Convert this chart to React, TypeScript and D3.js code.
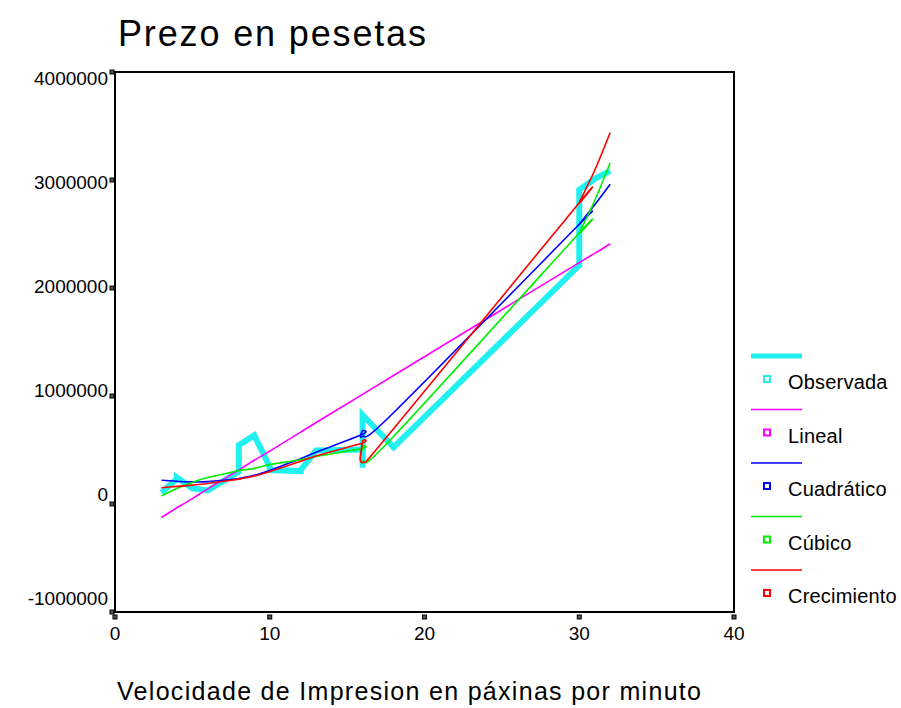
import React from "react";
import * as d3 from "d3";

// Cases in data order (x = pages per minute)
const caseX = [3, 4, 4, 5, 6, 8, 8, 9, 10, 10, 12, 12, 13, 16, 16, 16, 18, 30, 30, 31, 32];
const observada = [105000, 235000, 245000, 145000, 125000, 300000, 545000, 635000, 345000, 315000, 305000, 315000, 495000, 505000, 335000, 825000, 525000, 2210000, 2910000, 3010000, 3085000];
const lineal = [-125000, -35000, -35000, 50000, 140000, 315000, 315000, 405000, 490000, 490000, 665000, 665000, 755000, 1015000, 1015000, 1015000, 1190000, 2235000, 2235000, 2320000, 2410000];
const cuadratico = [220000, 210000, 210000, 205000, 207000, 235000, 235000, 265000, 310000, 310000, 420000, 420000, 480000, 645000, 680000, 625000, 845000, 2590000, 2590000, 2770000, 2960000];
const cubico = [75000, 145000, 145000, 200000, 245000, 310000, 310000, 330000, 365000, 365000, 410000, 410000, 440000, 515000, 530000, 395000, 625000, 2510000, 2510000, 2810000, 3160000];
const crecimiento = [150000, 163000, 163000, 175000, 190000, 230000, 230000, 260000, 300000, 300000, 395000, 395000, 445000, 565000, 580000, 385000, 697000, 2790000, 2790000, 3090000, 3440000];

const yTicks = [-1000000, 0, 1000000, 2000000, 3000000, 4000000];
const xTicks = [0, 10, 20, 30, 40];
const seriesNames = ["Observada", "Lineal", "Cuadrático", "Cúbico", "Crecimiento"];
const seriesColors = ["#22f0f0", "#ff00ff", "#0000ff", "#00ee00", "#ff0000"];
const seriesValues = [observada, lineal, cuadratico, cubico, crecimiento];

const W = 901;
const H = 708;
const left = 115;
const right = 734;
const top = 72;
const bottom = 612;

export default function App() {
  const x = d3.scaleLinear().domain([0, 40]).range([left, right]);
  const y = d3.scaleLinear().domain([-1000000, 4000000]).range([bottom, top]);
  const yLab = d3.scaleLinear().domain([-1000000, 4000000]).range([598, 78]);

  const obsLine = d3
    .line<number>()
    .x((_, i) => x(caseX[i]))
    .y((d) => y(d))
    .curve(d3.curveLinear);
  const fitLine = d3
    .line<number>()
    .x((_, i) => x(caseX[i]))
    .y((d) => y(d))
    .curve(d3.curveCardinal.tension(0));

  const font = "'Liberation Sans', Arial, sans-serif";
  const legendY = d3.scaleLinear().domain([0, 4]).range([356, 570]);

  return (
    <svg width={W} height={H} style={{ position: "absolute", left: 0, top: 0, background: "#fff" }}>
      <rect x={0} y={0} width={W} height={H} fill="#fff" />
      <text x={118} y={46} fontFamily={font} fontSize={36} fill="#000" textLength={308} lengthAdjust="spacing">
        Prezo en pesetas
      </text>

      {/* series */}
      {seriesValues.map((vals, si) => (
        <path
          key={si}
          d={(si === 0 ? obsLine : fitLine)(vals) || ""}
          fill="none"
          stroke={seriesColors[si]}
          strokeWidth={si === 0 ? 6 : 1.6}
          strokeLinejoin={si === 0 ? "miter" : "round"}
        />
      ))}

      {/* frame */}
      <rect x={left} y={top} width={right - left} height={bottom - top} fill="none" stroke="#000" strokeWidth={2} />

      {/* y ticks */}
      {yTicks.map((t) => (
        <g key={t}>
          <rect x={left - 5} y={y(t) - 2} width={4} height={4} fill="#555" stroke="#000" strokeWidth={1} />
          <text x={108} y={yLab(t)} dy="0.35em" textAnchor="end" fontFamily={font} fontSize={19} fill="#000">
            {t}
          </text>
        </g>
      ))}

      {/* x ticks */}
      {xTicks.map((t) => (
        <g key={t}>
          <rect x={x(t) - 2} y={bottom + 3} width={4} height={4} fill="#555" stroke="#000" strokeWidth={1} />
          <text x={x(t)} y={640} textAnchor="middle" fontFamily={font} fontSize={19} fill="#000">
            {t}
          </text>
        </g>
      ))}

      <text x={117} y={700} fontFamily={font} fontSize={25} fill="#000" textLength={584} lengthAdjust="spacing">
        Velocidade de Impresion en páxinas por minuto
      </text>

      {/* legend */}
      {seriesNames.map((n, i) => {
        const ly = legendY(i);
        return (
          <g key={n}>
            <line x1={751} x2={802} y1={ly} y2={ly} stroke={seriesColors[i]} strokeWidth={i === 0 ? 5 : 1.6} />
            <rect x={764} y={ly + 20} width={6} height={6} fill="#fff" stroke={seriesColors[i]} strokeWidth={2} />
            <text x={788} y={ly + 33} fontFamily={font} fontSize={20} letterSpacing={0.2} fill="#000">
              {n}
            </text>
          </g>
        );
      })}
    </svg>
  );
}
